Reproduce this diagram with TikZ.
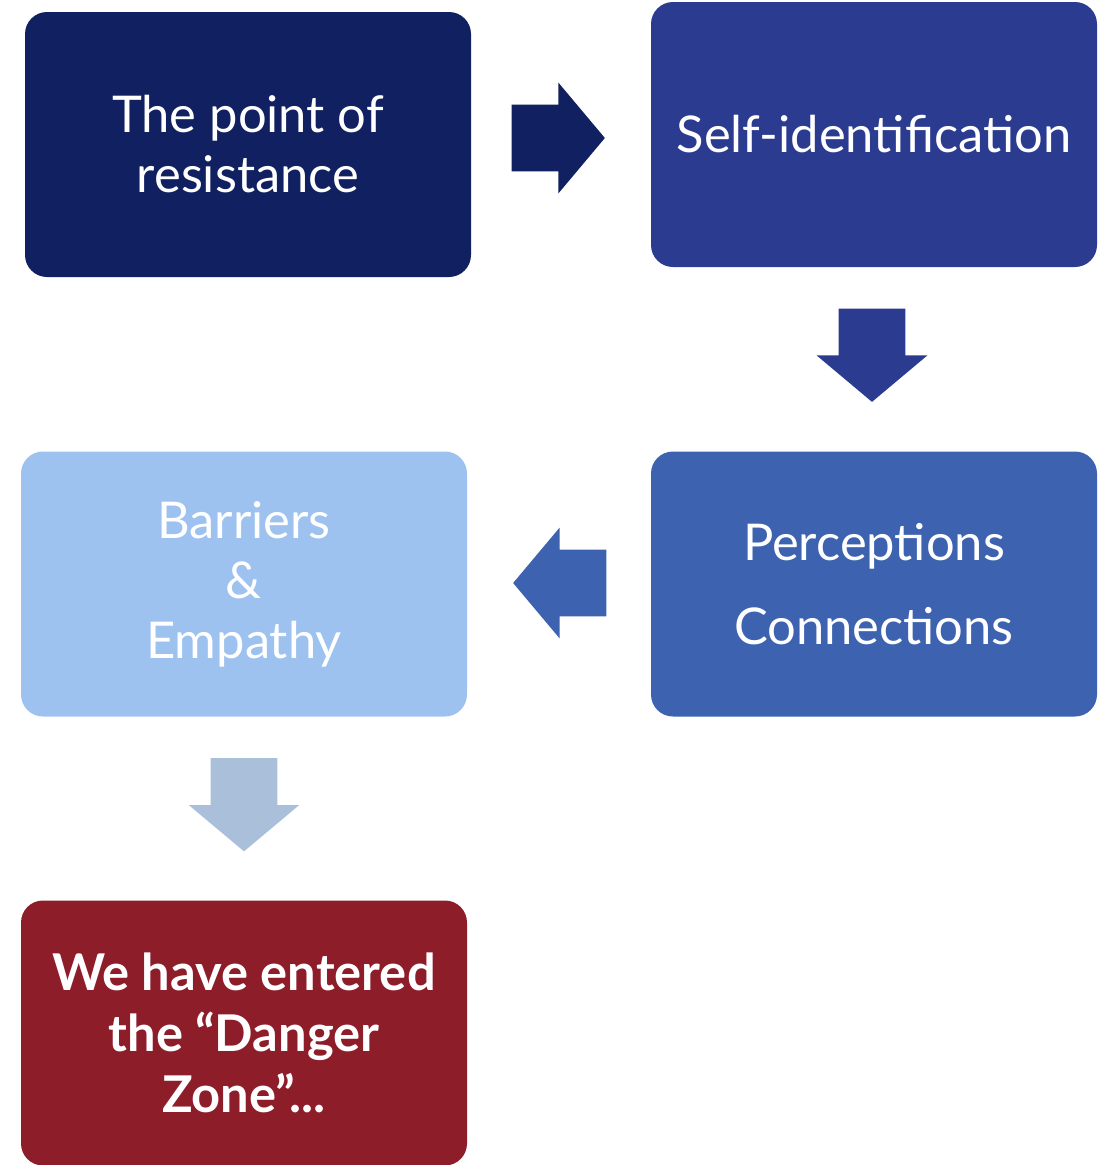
\documentclass[tikz,border=0pt]{standalone}
\usepackage{fontspec}
\setmainfont{Lato}
\usetikzlibrary{shapes.arrows,calc}

\definecolor{navy}{RGB}{16,32,96}
\definecolor{royal}{RGB}{43,59,143}
\definecolor{midblue}{RGB}{60,98,176}
\definecolor{skyblue}{RGB}{158,194,240}
\definecolor{greyblue}{RGB}{170,191,218}
\definecolor{wine}{RGB}{142,29,42}

\begin{document}
\begin{tikzpicture}[x=0.75pt,y=-0.75pt]
    \useasboundingbox (0,0) rectangle (1103,1165);

    \begin{scope}[every node/.style={rounded corners=16.5pt,minimum width=334.5pt,
                  minimum height=198.75pt,inner sep=0pt,text=white,align=center}]
        \node[fill=navy,font=\fontsize{38}{45}\selectfont] (resist) at (248,144.5)
            {The point of\\resistance};
        \node[fill=royal,font=\fontsize{38}{42}\selectfont] (selfid) at (874,134.5)
            {Self-identification};
        \node[fill=midblue,font=\fontsize{38}{63}\selectfont] (percep) at (874,584)
            {Perceptions\\Connections};
        \node[fill=skyblue,font=\fontsize{38}{45}\selectfont] (barrier) at (244,584)
            {Barriers\\\&\\Empathy};
        \node[fill=wine,font=\fontsize{38}{45.5}\selectfont\bfseries] (danger) at (244,1033)
            {We have entered\\the “Danger\\Zone”...};
    \end{scope}

    \begin{scope}[every node/.style={single arrow,anchor=tail,inner xsep=0pt,inner ysep=24.75pt,
                  single arrow head extend=16.5pt,single arrow tip angle=100,
                  single arrow head indent=0pt,minimum height=70pt}]
        \node[fill=navy] (a1) at ($(resist.east)+(40,-6.5)$) {};
        \node[fill=royal,rotate=-90] (a2) at ($(selfid.south)+(-2,41)$) {};
        \node[fill=midblue,rotate=180] (a3) at ($(percep.west)+(-44,-1)$) {};
        \node[fill=greyblue,rotate=-90] (a4) at ($(barrier.south)+(0,41)$) {};
    \end{scope}
\end{tikzpicture}
\end{document}
